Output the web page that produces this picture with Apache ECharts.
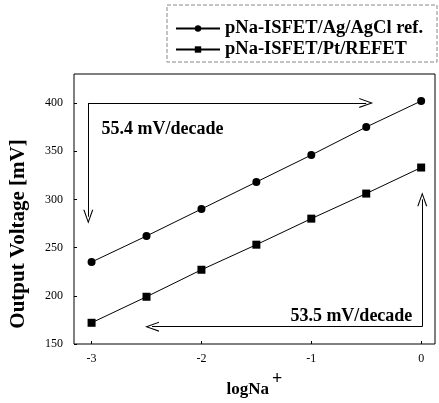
<!DOCTYPE html>
<html>
<head>
<meta charset="utf-8">
<script src="https://cdn.jsdelivr.net/npm/echarts@6/dist/echarts.min.js"></script>
<style>
html, body { margin: 0; padding: 0; background: #fff; }
#main { width: 439px; height: 403px; }
</style>
</head>
<body>
<div id="main"></div>
<script>
var chart = echarts.init(document.getElementById('main'));

// data
var logNa = [-3, -2.5, -2, -1.5, -1, -0.5, 0];
var agAgCl = [235, 262, 290, 318, 346, 375, 402];
var ptRefet = [172, 199, 227, 253, 280, 306, 333];
var xTicks = [-3, -2, -1, 0];
var yTicks = [150, 200, 250, 300, 350, 400];

var font = 'Liberation Serif';
// open V arrow head
var arrowHead = 'path://M6,0 L12,14 L10.6,14 L6,3 L1.4,14 L0,14 Z';

function pairs(xs, ys) {
    return xs.map(function (x, i) { return [x, ys[i]]; });
}

var arrowStyle = { color: '#000', width: 1, type: 'solid' };
var noteLabel = {
    show: true, color: '#000',
    fontFamily: font, fontWeight: 'bold', fontSize: 18
};

var option = {
    animation: false,
    backgroundColor: '#fff',
    textStyle: { fontFamily: font },
    grid: {
        left: 69, right: 4, top: 74, bottom: 55,
        show: true, borderColor: '#000', borderWidth: 1
    },
    legend: {
        orient: 'vertical',
        left: 170, top: 14,
        itemWidth: 44, itemHeight: 8, itemGap: 2,
        textStyle: { fontFamily: font, fontWeight: 'bold', fontSize: 18.5, color: '#000' },
        data: ['pNa-ISFET/Ag/AgCl ref.', 'pNa-ISFET/Pt/REFET']
    },
    graphic: [{
        type: 'rect',
        shape: { x: 167, y: 5, width: 270, height: 57 },
        style: { fill: 'none', stroke: '#888', lineWidth: 1, lineDash: [4, 2] }
    }],
    xAxis: {
        type: 'value', min: -3.16, max: 0.126,
        name: '{a|logNa}{b|+}',
        nameLocation: 'middle', nameGap: 26,
        nameTextStyle: {
            rich: {
                a: { fontFamily: font, fontWeight: 'bold', fontSize: 17, color: '#000', verticalAlign: 'bottom' },
                b: { fontFamily: font, fontWeight: 'bold', fontSize: 18, color: '#000', padding: [0, 0, 10, 3] }
            }
        },
        axisLine: { show: false, onZero: false },
        splitLine: { show: false },
        axisTick: { show: true, inside: true, length: 3, customValues: xTicks, lineStyle: { color: '#000' } },
        axisLabel: { customValues: xTicks, color: '#000', fontFamily: font, fontSize: 12, margin: 9 }
    },
    yAxis: {
        type: 'value', min: 150, max: 430,
        name: 'Output Voltage [mV]',
        nameLocation: 'middle', nameGap: 45, nameRotate: 90,
        nameTextStyle: { fontFamily: font, fontWeight: 'bold', fontSize: 21, color: '#000', padding: [0, 0, 0, -50] },
        axisLine: { show: false, onZero: false },
        splitLine: { show: false },
        axisTick: { show: true, inside: true, length: 3, customValues: yTicks, lineStyle: { color: '#000' } },
        axisLabel: { customValues: yTicks, color: '#000', fontFamily: font, fontSize: 12, margin: 11 }
    },
    series: [{
        name: 'pNa-ISFET/Ag/AgCl ref.',
        type: 'line',
        data: pairs(logNa, agAgCl),
        symbol: 'circle', symbolSize: 8,
        itemStyle: { color: '#000' },
        lineStyle: { color: '#000', width: 1 },
        markLine: {
            silent: true,
            symbol: ['none', arrowHead],
            symbolSize: [10, 14],
            lineStyle: arrowStyle,
            label: { show: false },
            data: [
                [{ coord: [-3.03, 400] }, { coord: [-3.03, 282] }],
                [{ coord: [-3.03, 400] }, { coord: [-0.5, 400] }]
            ]
        },
        markPoint: {
            silent: true,
            symbol: 'circle', symbolSize: 1,
            itemStyle: { color: 'rgba(0,0,0,0)' },
            label: Object.assign({ position: 'right', formatter: '55.4 mV/decade' }, noteLabel),
            data: [{ coord: [-2.96, 373] }]
        }
    }, {
        name: 'pNa-ISFET/Pt/REFET',
        type: 'line',
        data: pairs(logNa, ptRefet),
        symbol: 'rect', symbolSize: 8,
        itemStyle: { color: '#000' },
        lineStyle: { color: '#000', width: 1 },
        markLine: {
            silent: true,
            symbol: ['none', arrowHead],
            symbolSize: [10, 14],
            lineStyle: arrowStyle,
            label: { show: false },
            data: [
                [{ coord: [0.01, 168] }, { coord: [0.01, 300] }],
                [{ coord: [0.01, 168] }, { coord: [-2.45, 168] }]
            ]
        },
        markPoint: {
            silent: true,
            symbol: 'circle', symbolSize: 1,
            itemStyle: { color: 'rgba(0,0,0,0)' },
            label: Object.assign({ position: 'left', formatter: '53.5 mV/decade' }, noteLabel),
            data: [{ coord: [-0.03, 179] }]
        }
    }]
};

chart.setOption(option);
</script>
</body>
</html>
